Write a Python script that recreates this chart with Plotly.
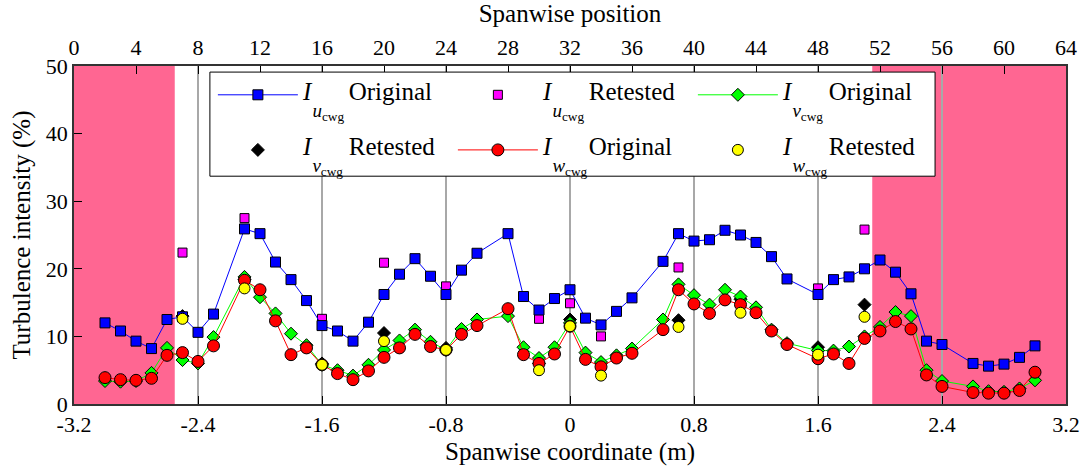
import plotly.graph_objects as go

# ---------------- data ----------------
x_orig = [-3.0, -2.9, -2.8, -2.7, -2.6, -2.5, -2.4, -2.3,
          -2.1, -2.0, -1.9, -1.8, -1.7, -1.6, -1.5, -1.4, -1.3, -1.2, -1.1, -1.0,
          -0.9, -0.8, -0.7, -0.6,
          -0.4, -0.3, -0.2, -0.1, 0.0, 0.1, 0.2, 0.3, 0.4,
          0.6, 0.7, 0.8, 0.9, 1.0, 1.1, 1.2, 1.3, 1.4,
          1.6, 1.7, 1.8, 1.9, 2.0, 2.1, 2.2, 2.3, 2.4,
          2.6, 2.7, 2.8, 2.9, 3.0]

iu_orig = [12.0, 10.8, 9.3, 8.2, 12.5, 12.9, 10.6, 13.3,
           25.9, 25.2, 21.0, 18.4, 15.3, 11.6, 10.8, 9.3, 12.1, 16.2, 19.2, 21.5,
           18.9, 16.2, 19.8, 22.3,
           25.2, 15.9, 13.9, 15.6, 16.9, 12.7, 11.7, 13.7, 15.7,
           21.1, 25.2, 24.1, 24.3, 25.7, 25.0, 23.9, 21.8, 18.5,
           16.2, 18.4, 18.8, 20.0, 21.3, 19.5, 16.3, 9.3, 8.8,
           6.0, 5.6, 5.9, 6.9, 8.6]

iv_orig = [3.4, 3.3, 3.4, 4.6, 8.3, 6.5, 6.0, 9.9,
           18.8, 15.8, 13.4, 10.4, 8.7, 5.8, 5.0, 4.2, 5.8, 8.0, 9.4, 11.0,
           9.2, 8.0, 11.1, 12.5,
           13.0, 8.4, 6.8, 8.4, 12.0, 7.6, 6.2, 7.2, 8.2,
           12.5, 17.7, 16.1, 14.7, 16.9, 15.9, 14.3, 11.0, 9.0,
           7.9, 7.9, 8.5, 10.0, 11.4, 13.6, 13.0, 5.0, 3.4,
           2.6, 1.9, 1.8, 2.3, 3.5]

iw_orig = [3.9, 3.6, 3.5, 3.8, 7.2, 7.6, 6.3, 8.6,
           18.3, 16.9, 12.3, 7.3, 8.3, 5.8, 4.5, 3.6, 4.9, 6.9, 8.3, 10.3,
           8.5, 8.0, 10.3, 11.6,
           14.1, 7.3, 6.0, 7.4, 11.5, 6.6, 5.5, 6.8, 7.5,
           11.0, 16.9, 14.8, 13.4, 15.4, 14.7, 13.5, 10.8, 8.8,
           6.7, 7.4, 6.0, 9.7, 10.8, 12.2, 11.1, 4.3, 2.6,
           1.7, 1.6, 1.6, 2.0, 4.7]

x_ret = [-2.5, -2.1, -1.6, -1.2, -0.8, -0.2, 0.0, 0.2, 0.7, 1.1, 1.6, 1.9]
iu_ret = [22.4, 27.5, 12.6, 20.9, 17.4, 12.6, 14.9, 10.0, 20.2, 25.0, 17.1, 25.8]
iv_ret = [13.0, 18.4, 6.0, 10.5, 8.3, 6.0, 12.5, 6.0, 12.4, 15.5, 8.4, 14.7]
iw_ret = [12.6, 17.1, 5.8, 9.3, 8.0, 5.0, 11.5, 4.2, 11.4, 13.5, 7.3, 12.9]

shaded_regions = [(-3.2, -2.55), (1.95, 3.2)]

x_ticks = [-3.2, -2.4, -1.6, -0.8, 0.0, 0.8, 1.6, 2.4, 3.2]
x_ticktext = ["-3.2", "-2.4", "-1.6", "-0.8", "0", "0.8", "1.6", "2.4", "3.2"]
top_ticks = list(range(0, 65, 4))
y_ticks = [0, 10, 20, 30, 40, 50]

FONT = "Liberation Serif"
NB = "\u00a0"


def lab(comp, word):
    line1 = f"<span style='font-size:25px'><i>I</i>{NB*6}{word}</span>"
    line2 = f"<span style='font-size:19px'>{NB*2}<i>{comp}</i><sub>cwg</sub></span>"
    return f"{NB}<br>{line1}<br>{line2}"


fig = go.Figure()

# draw order: retested squares/diamonds first
fig.add_trace(go.Scatter(x=x_ret, y=iu_ret, mode="markers", name=lab("u", "Retested"),
                         legend="legend", legendrank=2,
                         marker=dict(symbol="square", size=9, color="#FF00FF",
                                     line=dict(color="black", width=1))))
fig.add_trace(go.Scatter(x=x_ret, y=iv_ret, mode="markers", name=lab("v", "Retested"),
                         legend="legend2", legendrank=4,
                         marker=dict(symbol="diamond", size=10, color="black",
                                     line=dict(color="black", width=1))))
fig.add_trace(go.Scatter(x=x_orig, y=iu_orig, mode="lines+markers", name=lab("u", "Original"),
                         legend="legend", legendrank=1,
                         line=dict(color="#0000FF", width=1),
                         marker=dict(symbol="square", size=10, color="#0000FF",
                                     line=dict(color="black", width=1))))
fig.add_trace(go.Scatter(x=x_orig, y=iv_orig, mode="lines+markers", name=lab("v", "Original"),
                         legend="legend", legendrank=3,
                         line=dict(color="#00FF00", width=1),
                         marker=dict(symbol="diamond", size=10, color="#00FF00",
                                     line=dict(color="black", width=1))))
fig.add_trace(go.Scatter(x=x_orig, y=iw_orig, mode="lines+markers", name=lab("w", "Original"),
                         legend="legend2", legendrank=5,
                         line=dict(color="#FF0000", width=1),
                         marker=dict(symbol="circle", size=12, color="#FF0000",
                                     line=dict(color="black", width=1))))
fig.add_trace(go.Scatter(x=x_ret, y=iw_ret, mode="markers", name=lab("w", "Retested"),
                         legend="legend2", legendrank=6,
                         marker=dict(symbol="circle", size=11, color="#FFFF00",
                                     line=dict(color="black", width=1))))

# helper so that the top axis is rendered
fig.add_trace(go.Scatter(x=[top_ticks[0], top_ticks[-1]], y=[None, None], xaxis="x2",
                         mode="markers", showlegend=False, hoverinfo="skip"))

for x0, x1 in shaded_regions:
    fig.add_shape(type="rect", xref="x", yref="paper", x0=x0, x1=x1, y0=0, y1=1,
                  fillcolor="#FF6692", line=dict(width=0), layer="below")

# legend frame
fig.add_shape(type="rect", xref="paper", yref="paper", x0=0.137, x1=0.868,
              y0=0.674, y1=0.982, fillcolor="white",
              line=dict(color="black", width=1), layer="above")

leg_common = dict(orientation="h", xanchor="left", yanchor="top",
                  itemwidth=80, entrywidth=145, entrywidthmode="pixels",
                  bgcolor="rgba(0,0,0,0)", borderwidth=0,
                  font=dict(family=FONT, size=13, color="black"))

fig.update_layout(
    width=1083, height=470,
    margin=dict(l=74, r=17, t=66, b=66, autoexpand=False),
    paper_bgcolor="white", plot_bgcolor="white",
    font=dict(family=FONT, size=21, color="black"),
    showlegend=True,
    legend=dict(x=0.140, y=1.009, **leg_common),
    legend2=dict(x=0.140, y=0.846, **leg_common),
    xaxis=dict(range=[-3.2, 3.2], tickvals=x_ticks, ticktext=x_ticktext,
               ticks="inside", ticklen=8, tickcolor="black", automargin=False,
               tickfont=dict(size=22),
               showgrid=True, gridcolor="#A8A8A8", gridwidth=1.5,
               showline=True, linecolor="#333333", linewidth=1.5,
               zeroline=False,
               title=dict(text="Spanwise coordinate (m)", standoff=6,
                          font=dict(family=FONT, size=25))),
    xaxis2=dict(range=[0, 64], overlaying="x", side="top", anchor="y",
                tickvals=top_ticks, ticks="inside", ticklen=8, tickcolor="black",
                automargin=False, tickfont=dict(size=22),
                showgrid=False, zeroline=False,
                showline=True, linecolor="#333333", linewidth=1.5,
                title=dict(text="Spanwise position", standoff=8,
                           font=dict(family=FONT, size=25))),
    yaxis=dict(range=[0, 50], tickvals=y_ticks, ticks="inside", ticklen=8,
               tickcolor="black", showgrid=False, zeroline=False, automargin=False,
               tickfont=dict(size=22),
               showline=True, linecolor="#333333", linewidth=1.5, mirror=True,
               title=dict(text="Turbulence intensity (%)", standoff=8,
                          font=dict(family=FONT, size=25))),
)

fig.write_html("out.html")
